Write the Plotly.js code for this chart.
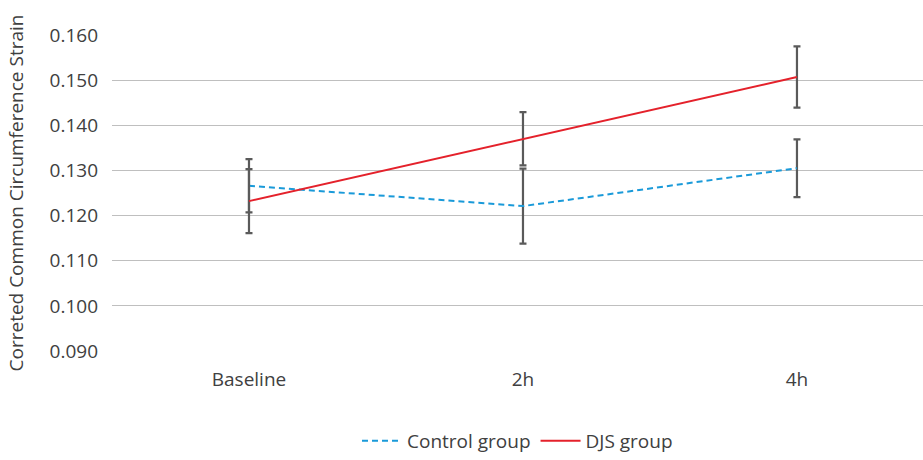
<!DOCTYPE html>
<html>
<head>
<meta charset="utf-8">
<script src="https://cdn.plot.ly/plotly-3.0.1.min.js"></script>
<style>html,body{margin:0;padding:0;background:#fff;}#chart{width:923px;height:460px;}</style>
</head>
<body>
<div id="chart"></div>
<script>
const categories = ["Baseline", "2h", "4h"];
const controlValues = [0.1266, 0.1221, 0.1305];
const controlErrors = [0.0059, 0.0083, 0.0064];
const djsValues = [0.1232, 0.1370, 0.1507];
const djsErrors = [0.0071, 0.0059, 0.0068];
const seriesNames = ["Control group", "DJS group"];

const errStyle = {type: "data", visible: true, color: "#5a5a5a", thickness: 2.2, width: 3.5};

const traces = [
  {
    x: categories, y: controlValues, name: seriesNames[0], type: "scatter", mode: "lines",
    line: {color: "#1a9ad9", width: 2, dash: "6px,4px"},
    error_y: Object.assign({array: controlErrors}, errStyle)
  },
  {
    x: categories, y: djsValues, name: seriesNames[1], type: "scatter", mode: "lines",
    line: {color: "#e4212b", width: 2},
    error_y: Object.assign({array: djsErrors}, errStyle)
  }
];

const layout = {
  width: 923, height: 460,
  margin: {l: 112, r: 0, t: 35, b: 106},
  paper_bgcolor: "#fff", plot_bgcolor: "#fff",
  font: {family: "Open Sans, Noto Sans, sans-serif", size: 19, color: "#404040"},
  showlegend: true,
  legend: {orientation: "h", x: 0.5, xanchor: "center", y: -0.285, yanchor: "middle",
           font: {size: 19, color: "#404040"}, itemwidth: 40},
  xaxis: {type: "category", range: [-0.5, 2.46], showgrid: false, zeroline: false,
          showline: false, ticks: "", ticklabelstandoff: 15,
          tickfont: {size: 19, color: "#404040"}},
  yaxis: {range: [0.090, 0.160], dtick: 0.010, tick0: 0.090, tickformat: ".3f",
          showgrid: true, gridcolor: "#bfbfbf", gridwidth: 1.2, zeroline: false,
          showline: false, ticks: "", ticklabelstandoff: 13,
          tickfont: {size: 19, color: "#404040"},
          title: {text: "Correted Common Circumference Strain", standoff: 20,
                  font: {size: 19, color: "#404040"}}}
};

Plotly.newPlot("chart", traces, layout, {displayModeBar: false, staticPlot: true});
</script>
</body>
</html>
